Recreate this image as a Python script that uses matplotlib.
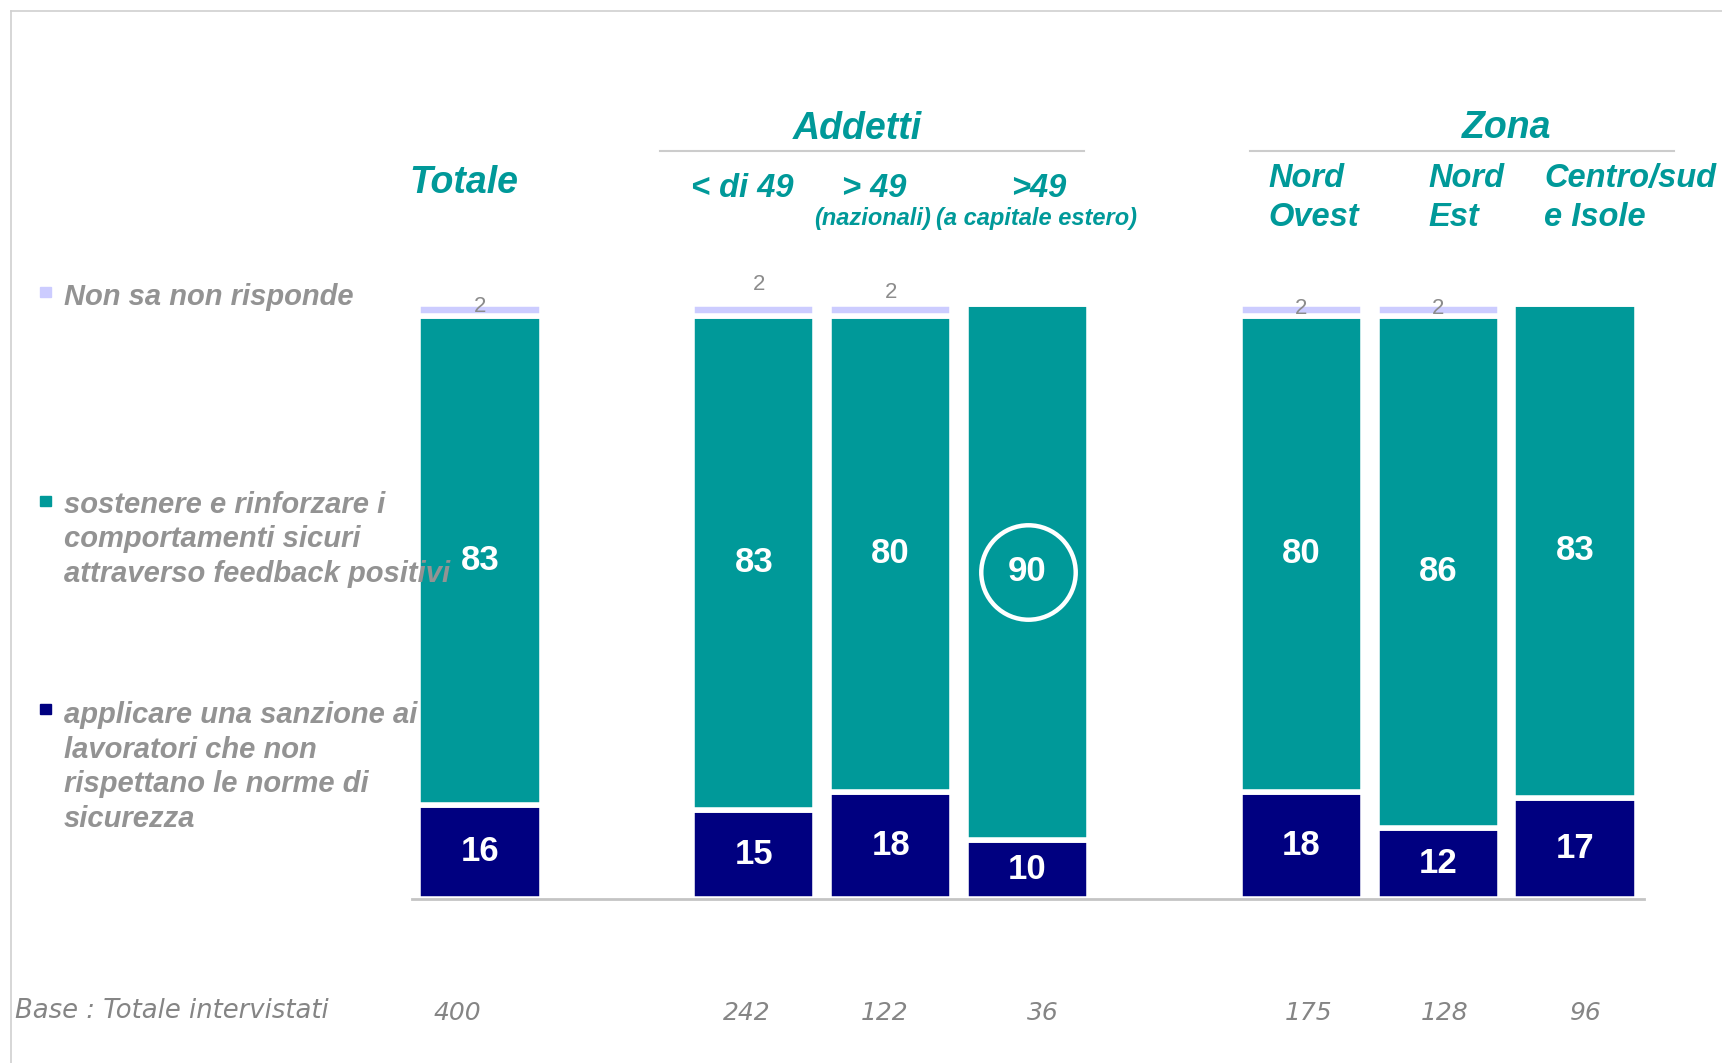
import matplotlib
matplotlib.use("Agg")
import matplotlib.pyplot as plt
from matplotlib.patches import Rectangle
from matplotlib.lines import Line2D
from matplotlib.transforms import blended_transform_factory

plt.rcParams['font.family'] = ['Liberation Sans', 'DejaVu Sans']

# data
groups = ['Totale', '< di 49', '> 49', '>49', 'Nord Ovest', 'Nord Est', 'Centro/sud e Isole']
sanzione = [16, 15, 18, 10, 18, 12, 17]
feedback = [83, 83, 80, 90, 80, 86, 83]
non_sa = [2, 2, 2, 0, 2, 2, 0]
base_n = [400, 242, 122, 36, 175, 128, 96]

legend_labels = ['Non sa non risponde',
                 'sostenere e rinforzare i\ncomportamenti sicuri\nattraverso feedback positivi',
                 'applicare una sanzione ai\nlavoratori che non\nrispettano le norme di\nsicurezza']

# layout / style
x_pos = [0, 2, 3, 4, 6, 7, 8]
nsnr_dx = [0, 5, 0, 0, 0, 0, 0]        # px
nsnr_dy = [-3, 19, 12, 0, -4, -4, 0]   # px
base_dx = [-23, -7, -6, 15, 7, 6, 11]  # px

TEAL = '#009999'
NAVY = '#000080'
LAV = '#CCCCFF'
GREY = '#939393'

W, H = 1722, 1063
fig = plt.figure(figsize=(W / 100, H / 100), dpi=100)


def fx(px):
    return px / W


def fy(py):
    return 1 - py / H


ax = fig.add_axes([fx(412), fy(899), (1644 - 412) / W, (899 - 304) / H])

tot = [s + f + n for s, f, n in zip(sanzione, feedback, non_sa)]
s_pct = [s / t * 100 for s, t in zip(sanzione, tot)]
f_pct = [f / t * 100 for f, t in zip(feedback, tot)]
n_pct = [n / t * 100 for n, t in zip(non_sa, tot)]
f_bot = s_pct
n_bot = [a + b for a, b in zip(s_pct, f_pct)]

ax.bar(x_pos, s_pct, width=0.9, color=NAVY, edgecolor='white', linewidth=4)
ax.bar(x_pos, f_pct, bottom=f_bot, width=0.9, color=TEAL, edgecolor='white', linewidth=4)
ax.bar(x_pos, n_pct, bottom=n_bot, width=0.9, color=LAV, edgecolor='white', linewidth=4)

for i, x in enumerate(x_pos):
    ax.text(x, s_pct[i] / 2, str(sanzione[i]), ha='center', va='center',
            color='white', fontsize=25, fontweight='bold', zorder=5)
    ax.text(x, f_bot[i] + f_pct[i] / 2, str(feedback[i]), ha='center', va='center',
            color='white', fontsize=25, fontweight='bold', zorder=5)
    if non_sa[i] > 0:
        ax.annotate(str(non_sa[i]), xy=(x, 100), xytext=(nsnr_dx[i] * 0.72, nsnr_dy[i] * 0.72),
                    textcoords='offset points', ha='center', va='center',
                    color='#8C8C8C', fontsize=16, zorder=5)

# highlight circle around the max value
imax = feedback.index(max(feedback))
ax.plot(x_pos[imax], f_bot[imax] + f_pct[imax] / 2, marker='o', ms=68,
        mfc='none', mec='white', mew=3.2, zorder=6)

ax.set_xlim(-0.497, 8.504)
ax.set_ylim(0, 100)
ax.set_xticks([])
ax.set_yticks([])
for side in ['top', 'left', 'right']:
    ax.spines[side].set_visible(False)
ax.spines['bottom'].set_color('#C4C4C4')
ax.spines['bottom'].set_linewidth(2)

# frame of the slide
fig.add_artist(Line2D([fx(11), 1], [fy(11), fy(11)], color='#D0D0D0', lw=1.2))
fig.add_artist(Line2D([fx(11), fx(11)], [fy(11), 0], color='#D0D0D0', lw=1.2))

# headers (multi-line texts are placed by the baseline of their last line)
hdr = dict(color=TEAL, fontweight='bold', style='italic', va='baseline')
fig.text(fx(464), fy(193), 'Totale', ha='center', fontsize=27, **hdr)
fig.text(fx(857), fy(139), 'Addetti', ha='center', fontsize=27, **hdr)
fig.text(fx(1507), fy(138), 'Zona', ha='center', fontsize=27, **hdr)
fig.add_artist(Line2D([fx(660), fx(1084)], [fy(151), fy(151)], color='#CCCCCC', lw=1.5))
fig.add_artist(Line2D([fx(1250), fx(1674)], [fy(151), fy(151)], color='#CCCCCC', lw=1.5))

fig.text(fx(742), fy(197), '< di 49', ha='center', fontsize=23.5, **hdr)
fig.text(fx(874), fy(197), '> 49', ha='center', fontsize=23.5, **hdr)
fig.text(fx(1039), fy(197), '>49', ha='center', fontsize=23.5, **hdr)
fig.text(fx(873), fy(225), '(nazionali)', ha='center', fontsize=17, **hdr)
fig.text(fx(1037), fy(225), '(a capitale estero)', ha='center', fontsize=17, **hdr)
fig.text(fx(1268), fy(226), 'Nord\nOvest', ha='left', fontsize=23.5, linespacing=1.35, **hdr)
fig.text(fx(1428), fy(226), 'Nord\nEst', ha='left', fontsize=23.5, linespacing=1.35, **hdr)
fig.text(fx(1544), fy(226), 'Centro/sud\ne Isole', ha='left', fontsize=23.5, linespacing=1.35, **hdr)

# legend on the left
leg_colors = [LAV, TEAL, NAVY]
leg_square_y = [292, 501, 709]
leg_text_y = [305, 582, 827]
for c, sy, ty, lab in zip(leg_colors, leg_square_y, leg_text_y, legend_labels):
    fig.add_artist(Rectangle((fx(40), fy(sy + 5)), 10.5 / W, 10.5 / H, color=c))
    fig.text(fx(64), fy(ty), lab, ha='left', va='baseline', fontsize=21,
             fontweight='bold', style='italic', color=GREY, linespacing=1.30, zorder=10)

# base row
fig.text(fx(15), fy(1018), 'Base : Totale intervistati', ha='left', va='baseline',
         fontsize=18.6, style='italic', color='#858585', family='DejaVu Sans')
trans = blended_transform_factory(ax.transData, fig.transFigure)
for x, n, dx in zip(x_pos, base_n, base_dx):
    ax.annotate(str(n), xy=(x, fy(1020)), xycoords=trans, xytext=(dx * 0.72, 0),
                textcoords='offset points', ha='center', va='baseline',
                fontsize=18, style='italic', color='#858585', family='DejaVu Sans',
                annotation_clip=False)

fig.savefig('out.png', dpi=100)
